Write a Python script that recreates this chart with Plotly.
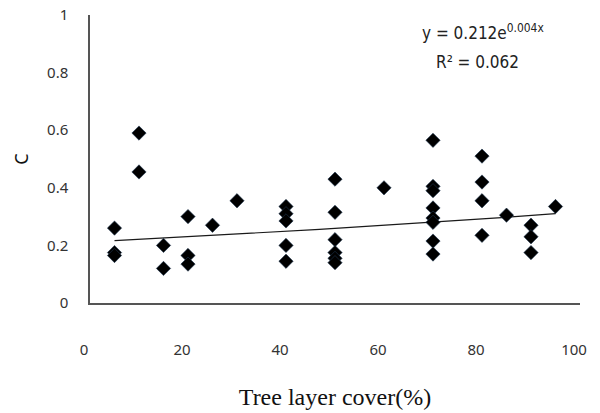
import numpy as np
import plotly.graph_objects as go

# Tree layer cover (%) and coefficient C per plot
cover = [5, 5, 5, 10, 10, 15, 15, 20, 20, 20, 25, 30,
         40, 40, 40, 40, 40,
         50, 50, 50, 50, 50, 50,
         60,
         70, 70, 70, 70, 70, 70, 70, 70,
         80, 80, 80, 80,
         85,
         90, 90, 90,
         95]
c_value = [0.26, 0.175, 0.165, 0.59, 0.455, 0.20, 0.12, 0.30, 0.165, 0.135, 0.27, 0.355,
           0.335, 0.31, 0.285, 0.20, 0.145,
           0.43, 0.315, 0.22, 0.175, 0.155, 0.14,
           0.40,
           0.565, 0.405, 0.39, 0.33, 0.295, 0.28, 0.215, 0.17,
           0.51, 0.42, 0.355, 0.235,
           0.305,
           0.27, 0.23, 0.175,
           0.335]

# Exponential trendline y = a * exp(b x)
trend_a = 0.212
trend_b = 0.004
r_squared = 0.062

x_ticks = [0, 20, 40, 60, 80, 100]
y_ticks = [0, 0.2, 0.4, 0.6, 0.8, 1]

trend_x = np.linspace(min(cover), max(cover), 100)
trend_y = trend_a * np.exp(trend_b * trend_x)

W, H = 600, 413
ml, mr, mt, mb = 90, 20, 15, 110


def px_to_paper(px, py):
    return (px - ml) / (W - ml - mr), 1 - (py - mt) / (H - mt - mb)


fig = go.Figure()
fig.add_trace(go.Scatter(
    x=trend_x, y=trend_y, mode="lines",
    line=dict(color="#1a1a1a", width=1.2), hoverinfo="skip", showlegend=False))
fig.add_trace(go.Scatter(
    x=cover, y=c_value, mode="markers",
    marker=dict(symbol="diamond", size=11, color="#000000",
                line=dict(color="#1f3550", width=0.6)),
    showlegend=False))

eq_font = dict(family="Liberation Sans Narrow, DejaVu Sans Condensed, sans-serif", size=17, color="#222")
ex, ey = px_to_paper(483, 32)
fig.add_annotation(
    x=ex, y=ey, xref="paper", yref="paper", showarrow=False,
    xanchor="center", yanchor="middle",
    text=f"y = {trend_a:.3f}e<sup>{trend_b:.3f}x</sup>", font=eq_font)
rx, ry = px_to_paper(477, 62)
fig.add_annotation(
    x=rx, y=ry, xref="paper", yref="paper", showarrow=False,
    xanchor="center", yanchor="middle",
    text=f"R² = {r_squared:.3f}", font=eq_font)

tick_font = dict(family="Noto Sans, DejaVu Sans, sans-serif", size=15, color="#333")

fig.update_layout(
    width=W, height=H,
    margin=dict(l=ml, r=mr, t=mt, b=mb),
    paper_bgcolor="white", plot_bgcolor="white",
    xaxis=dict(
        range=[0, 100], tickvals=x_ticks, ticktext=[str(v) for v in x_ticks],
        showgrid=False, zeroline=False, showline=True, linecolor="#555", linewidth=1.5,
        ticks="", tickfont=tick_font, ticklabelstandoff=32, ticklabelshift=-6,
        title=dict(text="Tree layer cover(%)", standoff=30,
                   font=dict(family="Liberation Serif, Times New Roman, serif", size=24, color="#111")),
        automargin=False,
    ),
    yaxis=dict(
        range=[0, 1], tickvals=y_ticks, ticktext=[f"{v:g}" for v in y_ticks],
        showgrid=False, zeroline=False, showline=True, linecolor="#555", linewidth=1.5,
        ticks="", tickfont=tick_font, ticklabelstandoff=17,
        title=dict(text="C", standoff=14,
                   font=dict(family="Noto Sans, DejaVu Sans, sans-serif", size=18, color="#111")),
        automargin=False,
    ),
)

fig.write_html("out.html")
